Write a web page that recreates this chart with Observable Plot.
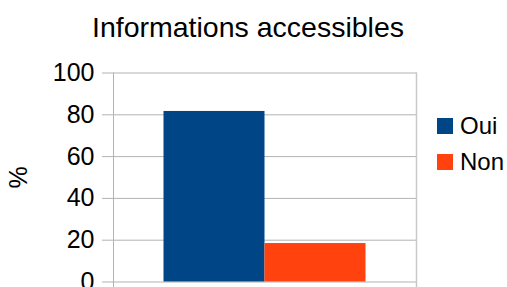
<!DOCTYPE html>
<html>
<head>
<meta charset="utf-8">
<script src="https://cdn.jsdelivr.net/npm/d3@7"></script>
<script src="https://cdn.jsdelivr.net/npm/@observablehq/plot@0.6"></script>
<style>
  html, body { margin: 0; padding: 0; background: #fff; }
  #wrap { position: relative; width: 507px; height: 287px; overflow: hidden; font-family: "Liberation Sans", Arial, sans-serif; }
  #title { position: absolute; left: 0; top: 11px; width: 496px; text-align: center; font-size: 28.5px; line-height: 32px; color: #000; }
  #chart { position: absolute; left: 0; top: 0; }
  #legend { position: absolute; left: 437px; top: 108px; }
  #legend .lg-swatches { margin: 0 !important; font-size: 24px !important; font-family: "Liberation Sans", Arial, sans-serif !important; color: #000; }
  #legend .lg-swatch { height: 36px !important; padding: 0 !important; margin: 0 !important; display: flex !important; align-items: center !important; }
  #legend .lg-swatch > svg { margin-right: 7px !important; }
</style>
</head>
<body>
<div id="wrap">
  <div id="title"></div>
  <div id="chart"></div>
  <div id="legend"></div>
</div>
<script>
const titleText = "Informations accessibles";
const categories = ["Oui", "Non"];
const values = [81.6, 18.4];
const colors = ["#004586", "#ff420e"];
const yTicks = [0, 20, 40, 60, 80, 100];
const yLabel = "%";

const data = categories.map((c, i) => ({cat: c, value: values[i]}));

document.getElementById("title").textContent = titleText;

const chart = Plot.plot({
  width: 507,
  height: 287,
  marginTop: 72.5,
  marginBottom: 5.5,
  marginLeft: 113,
  marginRight: 91,
  style: {fontFamily: "Liberation Sans, Arial, sans-serif", background: "transparent", overflow: "visible"},
  x: {domain: categories, paddingInner: 0, paddingOuter: 0.5, round: false, axis: null},
  y: {domain: [0, 100]},
  color: {domain: categories, range: colors},
  marks: [
    Plot.gridY(yTicks, {stroke: "#b3b3b3", strokeOpacity: 1}),
    Plot.barY(data, {x: "cat", y: "value", fill: "cat"}),
    Plot.frame({anchor: "left", stroke: "#b3b3b3", insetBottom: -8}),
    Plot.frame({anchor: "right", stroke: "#c8c8c8", strokeWidth: 1.5, insetBottom: -8}),
    Plot.axisY(yTicks, {
      tickSize: 11, tickPadding: 8, stroke: "#b3b3b3", fill: "#000",
      fontSize: 25, label: yLabel, labelAnchor: "center", labelArrow: "none", labelOffset: 104
    })
  ]
});
document.getElementById("chart").appendChild(chart);

const legend = Plot.legend({
  color: {domain: categories, range: colors},
  legend: "swatches",
  columns: 1,
  swatchSize: 16,
  className: "lg"
});
document.getElementById("legend").appendChild(legend);
</script>
</body>
</html>
